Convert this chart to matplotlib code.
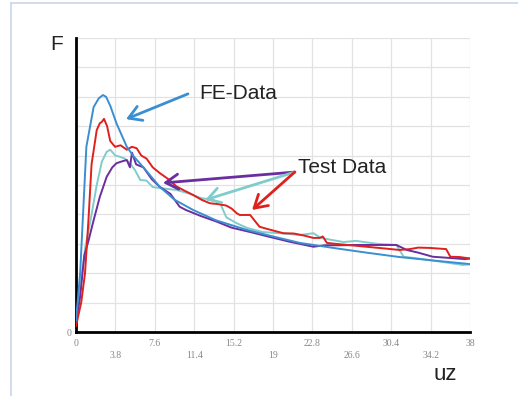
import matplotlib
matplotlib.use("Agg")
import matplotlib.pyplot as plt
from matplotlib.lines import Line2D

# ---- data ----
fe_x = [0, 0.4, 1.0, 1.7, 2.2, 2.6, 2.9, 3.3, 3.9, 4.9, 5.5, 6.5, 8.1, 9.5, 11.3, 13.5, 16.5, 19, 21.6, 25, 28, 31.2, 34.5, 38]
fe_y = [0.4, 2.0, 6.3, 7.65, 7.95, 8.06, 8.0, 7.7, 7.1, 6.3, 6.0, 5.6, 4.93, 4.5, 4.15, 3.8, 3.47, 3.25, 3.03, 2.85, 2.7, 2.55, 2.43, 2.31]

red_x = [0, 0.5, 0.87, 1.2, 1.5, 2.0, 2.3, 2.5, 2.7, 3.0, 3.3, 3.76, 4.3, 4.9, 5.4, 5.85, 6.3, 6.8, 7.4, 8.1, 8.9, 9.7, 10.5, 11.3, 12.1, 12.9, 13.7, 14.5, 15.0, 15.5, 15.8, 16.8, 17.2, 17.7, 18.5, 20, 21, 22, 22.9, 23.5, 23.8, 24.2, 25, 26.5, 28, 29.5, 31.2, 32.2, 33, 34.1, 35.7, 36.1, 37, 38]
red_y = [0.2, 1.0, 2.0, 3.8, 5.7, 6.87, 7.1, 7.15, 7.25, 7.0, 6.5, 6.3, 6.35, 6.2, 6.3, 6.25, 6.0, 5.9, 5.6, 5.4, 5.2, 4.95, 4.8, 4.66, 4.5, 4.38, 4.35, 4.3, 4.2, 4.04, 3.98, 3.98, 3.8, 3.58, 3.5, 3.36, 3.35, 3.28, 3.2, 3.2, 3.25, 3.03, 3.0, 2.95, 2.9, 2.85, 2.79, 2.82, 2.87, 2.86, 2.82, 2.56, 2.55, 2.5]

cyan_x = [0, 0.4, 0.9, 1.35, 2.0, 2.5, 2.96, 3.3, 3.8, 4.24, 4.7, 5.2, 5.7, 6.2, 6.8, 7.4, 8.5, 9.7, 11, 12, 13.2, 13.9, 14.5, 15.5, 16.5, 18, 20, 21.6, 22.9, 23.6, 25.8, 27, 29, 30.9, 31.6, 33, 35, 37.3, 38]
cyan_y = [0.3, 1.5, 2.9, 3.7, 5.0, 5.8, 6.13, 6.2, 6.0, 5.96, 5.9, 5.74, 5.5, 5.17, 5.15, 4.93, 4.88, 4.83, 4.7, 4.56, 4.49, 4.38, 3.9, 3.7, 3.54, 3.4, 3.35, 3.3, 3.36, 3.2, 3.06, 3.1, 3.0, 2.96, 2.56, 2.5, 2.4, 2.28, 2.3]

purple_x = [0, 0.4, 0.8, 1.2, 1.7, 2.3, 2.96, 3.5, 3.9, 4.4, 4.9, 5.2, 5.4, 5.8, 6.5, 7.3, 8.1, 9.1, 10.0, 10.6, 11.3, 12, 13.6, 15, 16.8, 18.5, 20.6, 22.9, 24, 25.5, 27.1, 29, 30.9, 31.9, 33, 34.4, 36, 37.5, 38]
purple_y = [0.3, 1.2, 2.6, 3.1, 3.8, 4.6, 5.28, 5.6, 5.74, 5.8, 5.85, 5.6, 6.1, 5.7, 5.6, 5.2, 4.93, 4.7, 4.26, 4.15, 4.05, 3.95, 3.75, 3.55, 3.4, 3.25, 3.07, 2.9, 2.95, 2.95, 2.96, 2.96, 2.96, 2.79, 2.7, 2.56, 2.52, 2.48, 2.5]

x_major = [0, 7.6, 15.2, 22.8, 30.4, 38]
x_minor = [3.8, 11.4, 19, 26.6, 34.2]
y_ticks = list(range(0, 11))

C_FE = "#3b8ed0"
C_RED = "#e0201c"
C_CYAN = "#80cccc"
C_PUR = "#6b2e9e"

fig = plt.figure(figsize=(5.18, 3.96), dpi=100)
fig.patch.set_facecolor("white")

# light-blue outer frame (top and left edges)
fig.add_artist(Line2D([11/518, 1], [1 - 3/396, 1 - 3/396], color="#c8d6ec", lw=1.2))
fig.add_artist(Line2D([11/518, 11/518], [0, 1 - 3/396], color="#c8d6ec", lw=1.2))

ax = fig.add_axes([76/518, (396-332)/396, 394/518, 294/396])
ax.set_xlim(0, 38)
ax.set_ylim(0, 10)

ax.set_xticks(x_major)
ax.set_xticklabels(["0", "7.6", "15.2", "22.8", "30.4", "38"])
ax.set_xticks(x_minor, minor=True)
ax.set_xticklabels(["3.8", "11.4", "19", "26.6", "34.2"], minor=True)
ax.set_yticks(y_ticks)
ax.set_yticklabels(["0"] + [""] * 10)

for lab in ax.get_xticklabels(which="major") + ax.get_xticklabels(which="minor") + ax.get_yticklabels():
    lab.set_fontfamily("Liberation Serif")
    lab.set_fontsize(7)
    lab.set_color("#888888")
ax.tick_params(axis="x", which="major", length=0, pad=5)
ax.tick_params(axis="x", which="minor", length=0, pad=14)
ax.tick_params(axis="y", length=0, pad=3)

ax.grid(True, which="both", color="#e2e2e2", lw=0.9)
ax.set_axisbelow(True)
for s in ["top", "right"]:
    ax.spines[s].set_visible(False)
ax.spines["left"].set_linewidth(2.0)
ax.spines["bottom"].set_linewidth(2.0)
ax.spines["left"].set_color("black")
ax.spines["bottom"].set_color("black")

lw = 1.4
ax.plot(cyan_x, cyan_y, color=C_CYAN, lw=lw, zorder=3)
ax.plot(purple_x, purple_y, color=C_PUR, lw=lw, zorder=4)
ax.plot(red_x, red_y, color=C_RED, lw=lw, zorder=5)
ax.plot(fe_x, fe_y, color=C_FE, lw=lw, zorder=6)

def arrow(tail, tip, color):
    ax.annotate("", xy=tip, xytext=tail,
                arrowprops=dict(arrowstyle="->,head_length=0.45,head_width=0.27",
                                color=color, lw=2.0, mutation_scale=20,
                                shrinkA=0, shrinkB=0), zorder=8)

arrow((10.8, 8.1), (4.82, 7.24), C_FE)
arrow((21.1, 5.44), (8.39, 5.07), C_PUR)
arrow((21.1, 5.44), (12.44, 4.49), C_CYAN)
arrow((21.1, 5.44), (16.98, 4.15), C_RED)

ax.text(11.9, 8.1, "FE-Data", fontsize=15, family="Liberation Sans",
        va="center", ha="left", color="#222222", zorder=9)
ax.text(21.4, 5.58, "Test Data", fontsize=15, family="Liberation Sans",
        va="center", ha="left", color="#222222", zorder=9)

fig.text(57/518, 1 - 45/396, "F", fontsize=15, family="Liberation Sans",
         ha="center", va="center", color="#222222")
fig.text(445/518, 1 - 375/396, "uz", fontsize=16, family="Liberation Sans",
         ha="center", va="center", color="#222222")

fig.savefig("out.png", dpi=100, facecolor="white")
